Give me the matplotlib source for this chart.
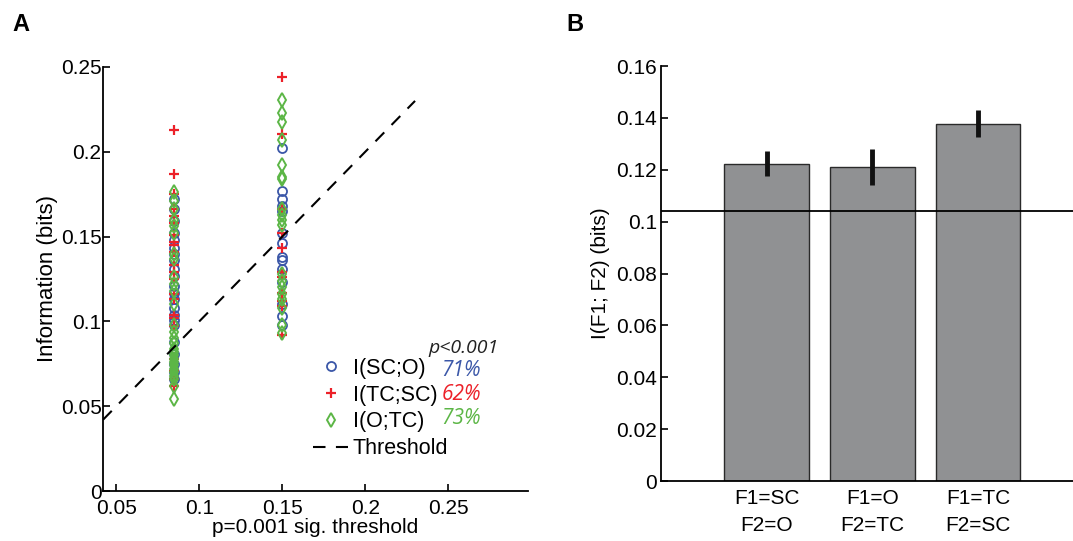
import matplotlib
matplotlib.use('Agg')
import matplotlib.pyplot as plt
from matplotlib.lines import Line2D
import numpy as np

plt.rcParams['font.family'] = ['Liberation Sans', 'DejaVu Sans']

# panel A: information per pair at two significance thresholds
thr = [0.085, 0.15]
sc_o = [
    [0.172, 0.166, 0.159, 0.152, 0.148, 0.143, 0.140, 0.136, 0.131, 0.127, 0.121,
     0.117, 0.113, 0.108, 0.104, 0.101, 0.098, 0.088, 0.081, 0.075, 0.070, 0.066],
    [0.202, 0.177, 0.172, 0.168, 0.165, 0.152, 0.146, 0.138, 0.136, 0.131, 0.123,
     0.110, 0.103, 0.098],
]
tc_sc = [
    [0.213, 0.187, 0.175, 0.166, 0.162, 0.158, 0.151, 0.147, 0.145, 0.141, 0.133,
     0.129, 0.125, 0.116, 0.113, 0.104, 0.102, 0.097, 0.078, 0.071, 0.066, 0.062],
    [0.244, 0.2105, 0.166, 0.152, 0.143, 0.129, 0.126, 0.117, 0.112, 0.109, 0.092],
]
o_tc = [
    [0.176, 0.171, 0.166, 0.160, 0.156, 0.152, 0.140, 0.137, 0.126, 0.122, 0.118,
     0.110, 0.098, 0.094, 0.090, 0.087, 0.084, 0.082, 0.080, 0.078, 0.076, 0.074,
     0.072, 0.070, 0.068, 0.066, 0.062, 0.054],
    [0.2305, 0.223, 0.2176, 0.207, 0.192, 0.185, 0.184, 0.166, 0.163, 0.160, 0.157,
     0.128, 0.124, 0.120, 0.116, 0.113, 0.108, 0.098, 0.093],
]
pct = ['71%', '62%', '73%']
thr_line = [0.042, 0.23]

# panel B
bar_labels = ['F1=SC\nF2=O', 'F1=O\nF2=TC', 'F1=TC\nF2=SC']
bar_vals = [0.1224, 0.1211, 0.1378]
bar_err = [0.0048, 0.0068, 0.0052]
chance = 0.104

blue, red, green = '#3b57a8', '#ec2129', '#5cb646'

fig = plt.figure(figsize=(10.73, 5.41), dpi=100)
ax = fig.add_axes([0.096, 0.0924, 0.396, 0.7838])
bx = fig.add_axes([0.616, 0.1109, 0.384, 0.767])

for a in (ax, bx):
    a.spines['top'].set_visible(False)
    a.spines['right'].set_visible(False)
    a.spines['left'].set_linewidth(1.3)
    a.spines['bottom'].set_linewidth(1.3)
    a.tick_params(direction='in', length=5, width=1.2, labelsize=15, pad=3)
ax.tick_params(axis='x', pad=6)
ax.tick_params(axis='y', pad=1)

for i, x in enumerate(thr):
    ax.plot([x] * len(sc_o[i]), sc_o[i], 'o', ls='none', mfc='none', mec=blue,
            ms=6.5, mew=1.3)
    ax.plot([x] * len(tc_sc[i]), tc_sc[i], '+', ls='none', color=red, ms=7, mew=1.6)
    ax.plot([x] * len(o_tc[i]), o_tc[i], 'd', ls='none', mfc='none', mec=green,
            ms=7.5, mew=1.4)
ax.plot(thr_line, thr_line, '--', color='k', lw=1.5, dashes=(6, 5))

ax.set_xlim(0.042, 0.298)
ax.set_ylim(0, 0.25)
ax.set_xticks([0.05, 0.1, 0.15, 0.2, 0.25])
ax.set_xticklabels(['0.05', '0.1', '0.15', '0.2', '0.25'])
ax.set_yticks([0, 0.05, 0.1, 0.15, 0.2, 0.25])
ax.set_yticklabels(['0', '0.05', '0.1', '0.15', '0.2', '0.25'])
ax.set_ylabel('Information (bits)', fontsize=16, labelpad=2)
ax.set_xlabel('p=0.001 sig. threshold', fontsize=15, labelpad=0)

handles = [
    Line2D([], [], marker='o', ls='none', mfc='none', mec=blue, ms=6.5, mew=1.3),
    Line2D([], [], marker='+', ls='none', color=red, ms=7, mew=1.6),
    Line2D([], [], marker='d', ls='none', mfc='none', mec=green, ms=7.5, mew=1.4),
    Line2D([], [], ls='--', color='k', lw=1.5, dashes=(6, 5)),
]
leg = ax.legend(handles, ['I(SC;O)', 'I(TC;SC)', 'I(O;TC)', 'Threshold'],
                loc='upper left', bbox_to_anchor=(0.494, 0.314), frameon=False,
                fontsize=15.5, handlelength=1.65, handletextpad=0.2,
                labelspacing=0.27, borderpad=0, borderaxespad=0)
for t, c, yy in zip(pct, [blue, red, green], [0.285, 0.228, 0.170]):
    ax.text(0.797, yy, t, transform=ax.transAxes, color=c, fontsize=15,
            style='italic', family='Open Sans', va='center')
ax.text(0.767, 0.337, 'p<0.001', transform=ax.transAxes, fontsize=14,
        style='italic', family='Open Sans', va='center', color='#222222')

pos = np.arange(1, len(bar_vals) + 1)
bx.bar(pos, bar_vals, width=0.8, color='#909193', edgecolor='#2a2a2a', lw=1)
bx.errorbar(pos, bar_vals, yerr=bar_err, fmt='none', ecolor='#111111',
            elinewidth=3.5, capsize=0)
bx.axhline(chance, color='k', lw=1.3)
bx.set_xlim(0, 3.9)
bx.set_ylim(0, 0.16)
bx.set_yticks(np.arange(0, 0.161, 0.02))
bx.set_yticklabels(['0', '0.02', '0.04', '0.06', '0.08', '0.1', '0.12', '0.14', '0.16'])
bx.set_xticks(pos)
bx.set_xticklabels(bar_labels, fontsize=15, linespacing=1.5)
bx.tick_params(axis='x', length=0, pad=6)
bx.set_ylabel('I(F1; F2) (bits)', fontsize=15, labelpad=4)

fig.text(0.012, 0.955, 'A', fontsize=17, fontweight='bold', va='center')
fig.text(0.528, 0.955, 'B', fontsize=17, fontweight='bold', va='center')

fig.savefig('out.png', dpi=100)
